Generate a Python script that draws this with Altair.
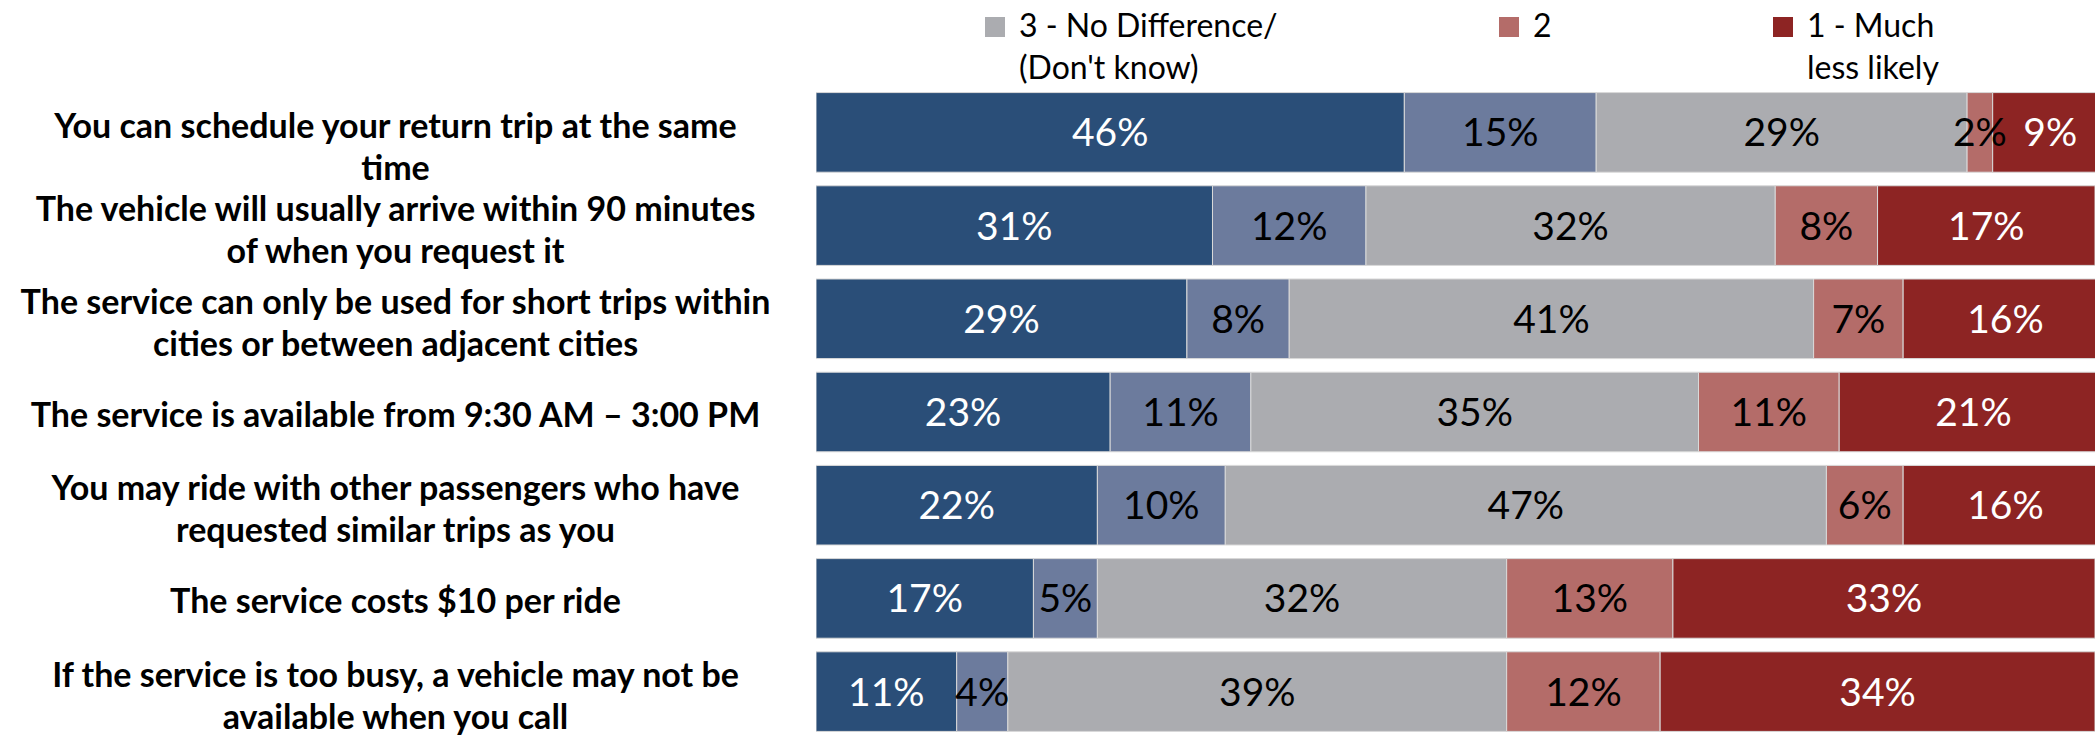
import altair as alt
import pandas as pd

statements = [
    "You can schedule your return trip at the same|time",
    "The vehicle will usually arrive within 90 minutes|of when you request it",
    "The service can only be used for short trips within|cities or between adjacent cities",
    "The service is available from 9:30 AM \u2013 3:00 PM",
    "You may ride with other passengers who have|requested similar trips as you",
    "The service costs $10 per ride",
    "If the service is too busy, a vehicle may not be|available when you call",
]
categories = ["5 - Much more likely", "4", "3 - No Difference/|(Don't know)", "2", "1 - Much|less likely"]
v5 = [46, 31, 29, 23, 22, 17, 11]
v4 = [15, 12, 8, 11, 10, 5, 4]
v3 = [29, 32, 41, 35, 47, 32, 39]
v2 = [2, 8, 7, 11, 6, 13, 12]
v1 = [9, 17, 16, 21, 16, 33, 34]
series = [v5, v4, v3, v2, v1]

bar_colors = ["#2a4e78", "#6c7b9d", "#abacb0", "#b46c69", "#8d2423"]
text_colors = ["white", "black", "black", "black", "white"]

rows = []
for ci, (cat, vals) in enumerate(zip(categories, series)):
    for si, st in enumerate(statements):
        rows.append({"statement": st, "cat": cat, "idx": ci, "value": vals[si],
                     "label": f"{vals[si]}%"})
df = pd.DataFrame(rows)

FONT = "Lato"

y_enc = alt.Y(
    "statement:N", sort=statements, title=None,
    scale=alt.Scale(paddingInner=0.146, paddingOuter=0.06),
    axis=alt.Axis(labelExpr="split(datum.label, '|')", labelAlign="center",
                  labelPadding=421, labelFontSize=34, labelFontWeight="bold",
                  labelFont=FONT, labelColor="black", labelLineHeight=42,
                  ticks=False, domain=False, labelLimit=0, labelBaseline="middle",
                  labelOffset={"condition": [
                      {"test": "indexof(datum.value, 'You can schedule') >= 0", "value": -4},
                      {"test": "indexof(datum.value, '|') >= 0", "value": -15}],
                      "value": 5}),
)

bars = alt.Chart(df).mark_bar(clip=True, stroke="#d9d9d9", strokeWidth=1).encode(
    x=alt.X("value:Q", stack="zero", scale=alt.Scale(domain=[0, 100]), axis=None),
    y=y_enc,
    color=alt.Color(
        "cat:N",
        scale=alt.Scale(domain=categories, range=bar_colors),
        legend=alt.Legend(
            orient="none", legendX=163, legendY=-76, direction="horizontal",
            values=categories[2:], labelExpr="split(datum.label, '|')", title=None,
            symbolType="square", symbolSize=400, symbolStrokeWidth=0, symbolOpacity=1,
            labelFontSize=32, labelFont=FONT, labelColor="black",
            gridAlign="none", columnPadding=215, labelBaseline="middle", labelOffset=8,
            padding=0, labelLimit=0,
        ),
    ),
    order=alt.Order("idx:Q"),
)

texts = alt.Chart(df).transform_stack(
    stack="value", groupby=["statement"], as_=["x0", "x1"],
    sort=[alt.SortField("idx", order="ascending")],
).transform_calculate(mid="(datum.x0 + datum.x1) / 2").mark_text(
    font=FONT, fontSize=39, align="center", baseline="middle", dy=2
).encode(
    x=alt.X("mid:Q", scale=alt.Scale(domain=[0, 100]), axis=None),
    y=alt.Y("statement:N", sort=statements),
    text="label:N",
    color=alt.Color("cat:N", scale=alt.Scale(domain=categories, range=text_colors), legend=None),
)

chart = alt.layer(bars, texts).resolve_scale(color="independent").properties(
    width=1279, height=650,
    autosize=alt.AutoSizeParams(type="none"),
    padding={"left": 816, "top": 87, "right": 0, "bottom": 0},
    background="white",
).configure(
    style={"guide-label": {"lineHeight": 42}},
).configure_view(stroke=None)

chart.save("out.html", embed_options={"renderer": "svg", "actions": False})
